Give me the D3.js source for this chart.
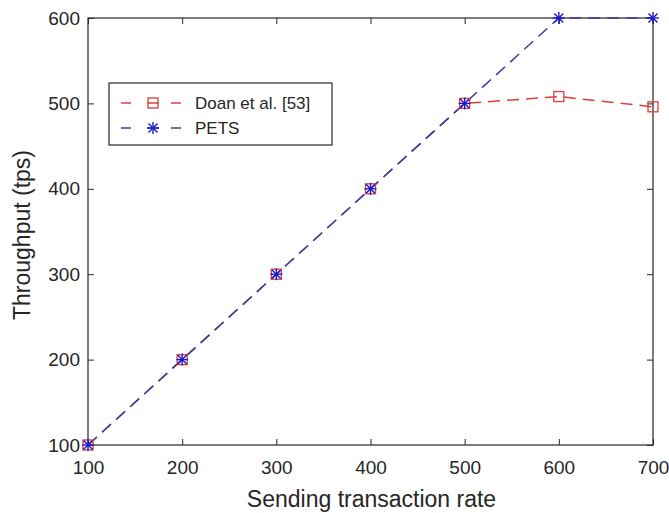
<!DOCTYPE html>
<html><head><meta charset="utf-8">
<script src="https://cdn.jsdelivr.net/npm/d3@7"></script>
<style>body{margin:0;background:#fff}svg{display:block}text{font-family:"Liberation Sans",Arial,sans-serif;fill:#262626}</style>
</head><body>
<svg id="c" width="669" height="513"></svg>
<script>
const xValues = [100, 200, 300, 400, 500, 600, 700];
const doanValues = [100, 200, 300, 400, 500, 508, 496];
const petsValues = [100, 200, 300, 400, 500, 600, 600];
const seriesNames = ["Doan et al. [53]", "PETS"];
const xTicks = [100, 200, 300, 400, 500, 600, 700];
const yTicks = [100, 200, 300, 400, 500, 600];

const svg = d3.select("#c");
const L = 88, R = 653, T = 18, B = 445;
const x = d3.scaleLinear().domain([100, 700]).range([L, R]);
const y = d3.scaleLinear().domain([100, 600]).range([B, T]);
const red = "#d9403a", blue = "#1a1acc", navy = "#3a3aa8";

// axes frame
const g = svg.append("g");
g.append("rect").attr("x", L).attr("y", T).attr("width", R - L).attr("height", B - T)
  .attr("fill", "none").attr("stroke", "#262626").attr("stroke-width", 1.2);

const xa = g.append("g").attr("transform", `translate(0,${B})`)
  .call(d3.axisBottom(x).tickValues(xTicks).tickSize(-6).tickPadding(16).tickFormat(d3.format("d")));
const xt = g.append("g").attr("transform", `translate(0,${T})`)
  .call(d3.axisTop(x).tickValues(xTicks).tickSize(-6).tickFormat(""));
const ya = g.append("g").attr("transform", `translate(${L},0)`)
  .call(d3.axisLeft(y).tickValues(yTicks).tickSize(-6).tickPadding(8).tickFormat(d3.format("d")));
const yr = g.append("g").attr("transform", `translate(${R},0)`)
  .call(d3.axisRight(y).tickValues(yTicks).tickSize(-6).tickFormat(""));
[xa, xt, ya, yr].forEach(a => {
  a.select(".domain").remove();
  a.selectAll("line").attr("stroke", "#262626");
  a.selectAll("text").attr("font-size", 19).attr("fill", "#262626")
    .attr("font-family", '"Liberation Sans",Arial,sans-serif');
});

// lines
const line = vals => d3.line().x((d, i) => x(xValues[i])).y(d => y(d))(vals);
svg.append("path").attr("d", line(doanValues)).attr("fill", "none")
  .attr("stroke", red).attr("stroke-width", 1.5).attr("stroke-dasharray", "12,7");
svg.append("path").attr("d", line(petsValues)).attr("fill", "none")
  .attr("stroke", navy).attr("stroke-width", 1.5).attr("stroke-dasharray", "12,7");

function square(sel, cx, cy) {
  sel.append("rect").attr("x", cx - 5).attr("y", cy - 5).attr("width", 10).attr("height", 10)
    .attr("fill", "none").attr("stroke", red).attr("stroke-width", 1.3);
}
function star(sel, cx, cy) {
  const r = 6;
  const p = sel.append("g").attr("stroke", blue).attr("stroke-width", 1.4);
  p.append("line").attr("x1", cx - r).attr("x2", cx + r).attr("y1", cy).attr("y2", cy);
  p.append("line").attr("x1", cx).attr("x2", cx).attr("y1", cy - r).attr("y2", cy + r);
  const d = r * 0.75;
  p.append("line").attr("x1", cx - d).attr("x2", cx + d).attr("y1", cy - d).attr("y2", cy + d);
  p.append("line").attr("x1", cx - d).attr("x2", cx + d).attr("y1", cy + d).attr("y2", cy - d);
}
const mk = svg.append("g");
doanValues.forEach((v, i) => square(mk, x(xValues[i]), y(v)));
petsValues.forEach((v, i) => star(mk, x(xValues[i]), y(v)));

// axis labels
svg.append("text").attr("x", 371.5).attr("y", 507).attr("text-anchor", "middle")
  .attr("font-size", 23).text("Sending transaction rate");
svg.append("text").attr("transform", `translate(30,235) rotate(-90)`)
  .attr("text-anchor", "middle").attr("font-size", 23).text("Throughput (tps)");

// legend
const lg = svg.append("g");
lg.append("rect").attr("x", 109).attr("y", 83).attr("width", 223).attr("height", 62)
  .attr("fill", "#fff").attr("stroke", "#262626").attr("stroke-width", 1.2);
const rows = [{ name: seriesNames[0], c: red, m: square, yy: 103 },
              { name: seriesNames[1], c: navy, m: star, yy: 128 }];
rows.forEach(r => {
  [[121, 131], [147, 159], [171, 181]].forEach(([a, b]) =>
    lg.append("line").attr("x1", a).attr("x2", b).attr("y1", r.yy).attr("y2", r.yy)
      .attr("stroke", r.c).attr("stroke-width", 1.5));
  r.m(lg, 153, r.yy);
  lg.append("text").attr("x", 195).attr("y", r.yy + 6).attr("font-size", 17).text(r.name);
});
</script>
</body></html>
